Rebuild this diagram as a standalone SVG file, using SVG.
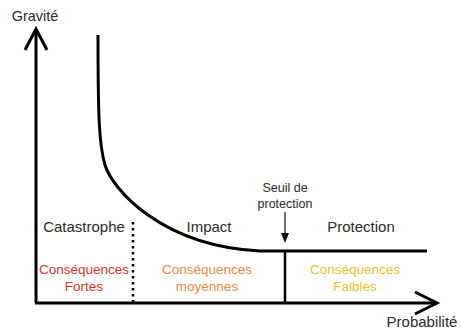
<svg xmlns="http://www.w3.org/2000/svg" width="462" height="332" viewBox="0 0 462 332">
<style>
text{font-family:"Liberation Sans",Arial,sans-serif;text-anchor:middle}
.lbl{font-size:15px;fill:#2a2a2a}
.sm{font-size:12.5px;fill:#2a2a2a}
.c{font-size:13.5px}
.red{fill:#d8312d}
.org{fill:#ea8a48}
.yel{fill:#e6c230}
.ax{stroke:#000;stroke-width:3;fill:none}
</style>
<rect width="462" height="332" fill="#fff"/>
<g id="axes">
<path class="ax" d="M36,303 L36,30"/>
<path class="ax" d="M25,50 L36,29 L47,50" stroke-linejoin="miter"/>
<path class="ax" d="M35,303 L437,303"/>
<path class="ax" d="M415,292 L437,303 L415,314"/>
<text x="35" y="21" class="lbl" style="font-size:14.5px">Gravité</text>
<text x="422" y="327" class="lbl">Probabilité</text>
</g>
<g id="connectors">
<path class="ax" d="M98,35 C98,115 99,145 105,165 C112,188 160,246 260,251 L427,251"/>
<line x1="133" y1="222" x2="133" y2="302" stroke="#000" stroke-width="2.5" stroke-dasharray="2.5,3.5"/>
<line x1="285" y1="251" x2="285" y2="303" stroke="#000" stroke-width="2.5"/>
<line x1="285" y1="212" x2="285" y2="234" stroke="#222" stroke-width="1.3"/>
<path d="M281,233 L289,233 L285,243 Z" fill="#111"/>
</g>
<g id="catastrophe">
<text x="84" y="232" class="lbl">Catastrophe</text>
<text x="84" y="274" class="c red">Conséquences</text>
<text x="84" y="291" class="c red">Fortes</text>
</g>
<g id="impact">
<text x="209" y="232" class="lbl">Impact</text>
<text x="207" y="274" class="c org">Conséquences</text>
<text x="207" y="291" class="c org">moyennes</text>
</g>
<g id="seuil">
<text x="285" y="192" class="sm">Seuil de</text>
<text x="285" y="208" class="sm">protection</text>
</g>
<g id="protection">
<text x="361" y="232" class="lbl">Protection</text>
<text x="355" y="274" class="c yel">Conséquences</text>
<text x="355" y="291" class="c yel">Faibles</text>
</g>
</svg>
